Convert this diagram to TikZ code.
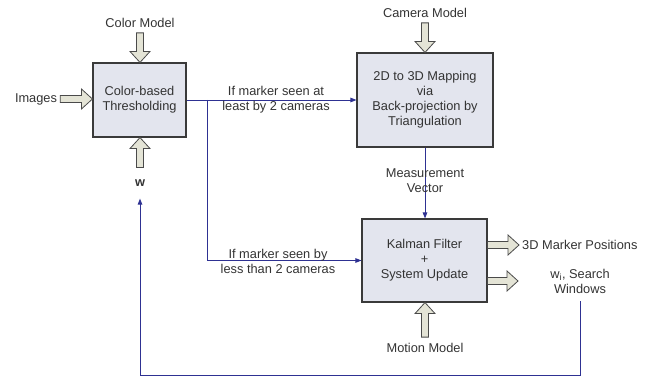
\documentclass[tikz,border=0pt]{standalone}
\usepackage{fontspec}
\setmainfont{Liberation Sans}
\usetikzlibrary{calc,arrows.meta}
\definecolor{boxfill}{HTML}{E3E5EE}
\definecolor{boxline}{HTML}{3A3A3A}
\definecolor{txt}{HTML}{333333}
\definecolor{flowblue}{HTML}{2E3192}
\definecolor{bafill}{HTML}{E4E4D6}
\definecolor{baline}{HTML}{4A4A4A}
\newcommand\hollowarrow[2]{%
  \coordinate (ha-s) at (#1);
  \coordinate (ha-e) at (#2);
  \coordinate (ha-m) at ($(ha-e)!11pt!(ha-s)$);
  \filldraw[blockarrow]
    ($(ha-s)!3.5pt!90:(ha-e)$) -- ($(ha-m)!3.5pt!90:(ha-e)$) -- ($(ha-m)!10pt!90:(ha-e)$) -- (ha-e)
    -- ($(ha-m)!10pt!-90:(ha-e)$) -- ($(ha-m)!3.5pt!-90:(ha-e)$) -- ($(ha-s)!3.5pt!-90:(ha-e)$) -- cycle;
}
\begin{document}
\begin{tikzpicture}[x=1pt,y=-1pt, font=\fontsize{12.8}{15}\selectfont, text=txt,
  box/.style={draw=boxline, fill=boxfill, line width=1.1pt, align=center, inner sep=0pt},
  lbl/.style={align=center, inner sep=3pt},
  flow/.style={draw=flowblue, line width=0.9pt, -{Triangle[length=6pt,width=4.5pt]}},
  blockarrow/.style={fill=bafill, draw=baline, line width=0.8pt, line join=miter}]
\useasboundingbox (0,0) rectangle (652,377);
% boxes
\node[box, minimum width=93pt, minimum height=74pt] (b1) at (139.5,100) {Color-based\\Thresholding};
\node[box, minimum width=136pt, minimum height=94pt] (b2) at (425,100) {2D to 3D Mapping\\via\\Back-projection by\\Triangulation};
\node[box, minimum width=125pt, minimum height=83pt] (b3) at (424.5,260.5) {Kalman Filter\\+\\System Update};
% input / output texts
\node[lbl, inner ysep=5pt] (cm) at (140,23) {Color Model};
\node[lbl] (img) at (36,99) {Images};
\node[lbl, inner ysep=12pt] (w) at (140,183) {\textbf{w}};
\node[lbl, inner ysep=5pt] (cam) at (425,13) {Camera Model};
\node[lbl, inner ysep=6pt] (mm) at (425,348) {Motion Model};
\node[lbl, anchor=west, inner xsep=3pt] (mp) at (519,245) {3D Marker Positions};
\node[lbl, inner ysep=8pt] (wi) at (580,281) {w\textsubscript{i}, Search\\Windows};
\coordinate (out2) at (518,281);
% block arrows
\hollowarrow{cm.south}{cm.south |- b1.north}
\hollowarrow{img.east}{img.east -| b1.west}
\hollowarrow{w.north}{w.north |- b1.south}
\hollowarrow{cam.south}{cam.south |- b2.north}
\hollowarrow{mm.north}{mm.north |- b3.south}
\hollowarrow{b3.east |- mp.west}{mp.west}
\hollowarrow{b3.east |- out2}{out2}
% flow connectors
\coordinate (split) at ($(b1.east)+(21,0)$);
\draw[flow] (b1.east) -- (b2.west);
\draw[flow] (split) |- (b3.west);
\draw[flow] (b2.south) -- (b2.south |- b3.north);
\coordinate (fbcorner) at (wi.south |- 0,375);
\draw[flow] (wi.south) -- (fbcorner) -| (w.south);
% connector labels
\node[lbl] (l1) at (276,100) {If marker seen at\\least by 2 cameras};
\node[lbl] (l2) at (278,261) {If marker seen by\\less than 2 cameras};
\node[lbl] (l3) at (425,181) {Measurement\\Vector};
\end{tikzpicture}
\end{document}
